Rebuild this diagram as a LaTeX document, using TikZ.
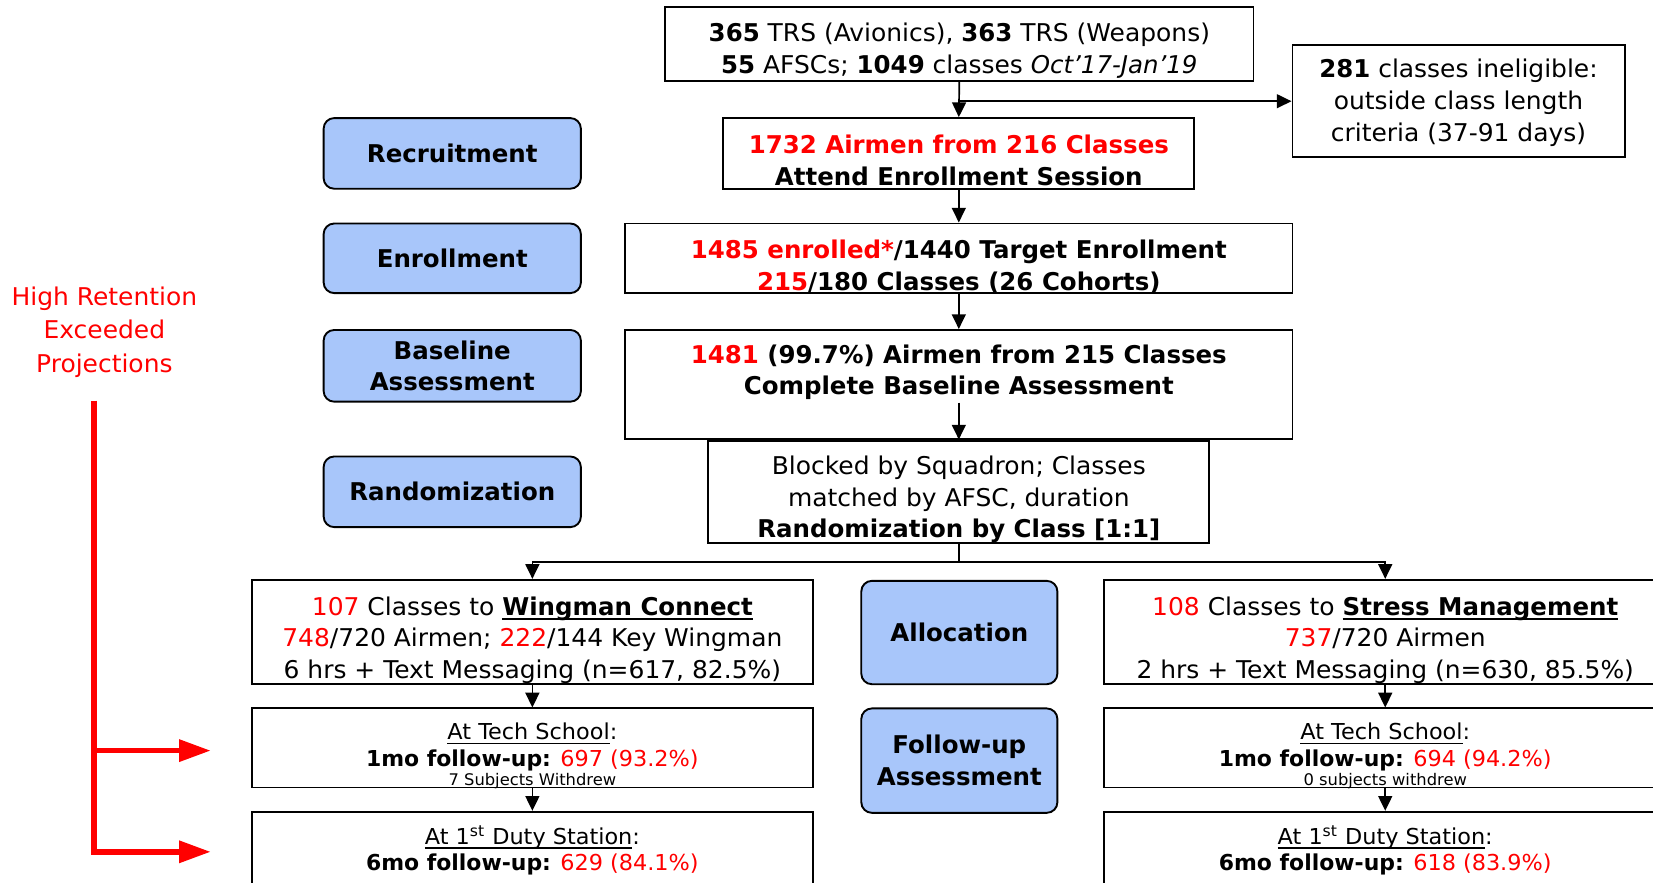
\documentclass[tikz,border=0pt]{standalone}
\usepackage{fontspec}
\setmainfont{DejaVu Sans}[ItalicFont={DejaVu Sans Oblique}, BoldFont={DejaVu Sans Bold}, BoldItalicFont={DejaVu Sans Bold Oblique}, UprightFeatures={FakeStretch=1.02}]
\usetikzlibrary{arrows.meta}
\definecolor{hl}{RGB}{255,0,0}
\definecolor{phase}{RGB}{168,198,250}
\newcommand{\rd}[1]{\textcolor{hl}{#1}}
\newcommand{\ulin}[1]{\setbox0\hbox{#1}\rlap{\rule[-2.2pt]{\wd0}{0.9pt}}\box0}
\begin{document}
\begin{tikzpicture}[x=0.5pt,y=-0.5pt,
  box/.style={draw, line width=0.9pt, inner sep=0pt},
  txt/.style={inner sep=0pt, align=center, font=\fontsize{11.6}{15}\selectfont},
  btxt/.style={txt, font=\fontsize{11.6}{15}\selectfont\bfseries},
  ftxt/.style={inner sep=0pt, align=center, font=\fontsize{10.4}{12.5}\selectfont},
  phasebox/.style={draw, line width=0.9pt, fill=phase, rounded corners=5pt, inner sep=0pt, align=center, font=\fontsize{11.6}{15}\selectfont\bfseries},
  arr/.style={line width=0.8pt, -{Triangle[length=7pt,width=6.6pt]}},
  redarr/.style={draw=hl, line width=2.7pt, -{Triangle[length=15pt,width=10pt]}},
  small/.style={inner sep=0pt, font=\fontsize{7.6}{8}\selectfont}
]
\clip (0,0) rectangle (1568,837);
\fill[white] (0,0) rectangle (1568,837);

% boxes of the main flow
\node[box, minimum width=279pt, minimum height=35pt] (top) at (910,42) {};
\node[txt] (topT) at (910,48)
  {\textbf{365} TRS (Avionics), \textbf{363} TRS (Weapons)\\\textbf{55} AFSCs; \textbf{1049} classes \textit{Oct’17-Jan’19}};
\node[box, minimum width=157.5pt, minimum height=53pt] (inel) at (1383.5,96) {};
\node[txt] (inelT) at (1383.5,97.5)
  {\textbf{281} classes ineligible:\\outside class length\\criteria (37-91 days)};
\node[box, minimum width=223.5pt, minimum height=33.5pt] (recr) at (909.5,145.5) {};
\node[btxt] (recrT) at (909.5,152)
  {\rd{1732 Airmen from 216 Classes}\\Attend Enrollment Session};
\node[box, minimum width=316.5pt, minimum height=33pt] (enrol) at (909.5,245) {};
\node[btxt] (enrolT) at (909.5,253)
  {\rd{1485 enrolled*}/1440 Target Enrollment\\\rd{215}/180 Classes (26 Cohorts)};
\node[box, minimum width=316.5pt, minimum height=51.5pt] (base) at (909.5,364.5) {};
\node[btxt] (baseT) at (909.5,353)
  {\rd{1481} (99.7\%) Airmen from 215 Classes\\Complete Baseline Assessment};
\node[box, minimum width=237.5pt, minimum height=48.5pt] (rand) at (909.5,466.5) {};
\node[txt] (randT) at (909.5,474)
  {Blocked by Squadron; Classes\\matched by AFSC, duration\\\textbf{Randomization by Class [1:1]}};

% arms
\node[box, minimum width=266pt, minimum height=49.5pt] (wing) at (505,599.5) {};
\node[txt] (wingT) at (505,607)
  {\rd{107} Classes to \ulin{\textbf{Wingman Connect}}\\\rd{748}/720 Airmen; \rd{222}/144 Key Wingman\\6 hrs + Text Messaging (n=617, 82.5\%)};
\node[box, minimum width=267pt, minimum height=49.5pt] (stress) at (1314,599.5) {};
\node[txt] (stressT) at (1314,607)
  {\rd{108} Classes to \ulin{\textbf{Stress Management}}\\\rd{737}/720 Airmen\\2 hrs + Text Messaging (n=630, 85.5\%)};
\node[box, minimum width=266pt, minimum height=37.5pt] (techL) at (505,709.5) {};
\node[ftxt] (techLT) at (505,708.5)
  {\ulin{At Tech School}:\\\textbf{1mo follow-up:} \rd{697 (93.2\%)}};
\node[box, minimum width=267pt, minimum height=37.5pt] (techR) at (1314,709.5) {};
\node[ftxt] (techRT) at (1314,708.5)
  {\ulin{At Tech School}:\\\textbf{1mo follow-up:} \rd{694 (94.2\%)}};
\node[small] (wdL) at (505,741) {7 Subjects Withdrew};
\node[small] (wdR) at (1314,741) {0 subjects withdrew};
\node[box, minimum width=266pt, minimum height=40pt] (dutyL) at (505,810) {};
\node[ftxt] (dutyLT) at (505,807)
  {\ulin{At 1\textsuperscript{st} Duty Station}:\\\textbf{6mo follow-up:} \rd{629 (84.1\%)}};
\node[box, minimum width=267pt, minimum height=40pt] (dutyR) at (1314,810) {};
\node[ftxt] (dutyRT) at (1314,807)
  {\ulin{At 1\textsuperscript{st} Duty Station}:\\\textbf{6mo follow-up:} \rd{618 (83.9\%)}};

% phase labels
\node[phasebox, minimum width=122pt, minimum height=33.5pt] (pRecr) at (429,145.5) {Recruitment};
\node[phasebox, minimum width=122pt, minimum height=33pt] (pEnrol) at (429,245) {Enrollment};
\node[phasebox, minimum width=122pt, minimum height=34pt] (pBase) at (429,347) {Baseline\\Assessment};
\node[phasebox, minimum width=122pt, minimum height=33.5pt] (pRand) at (429,466.5) {Randomization};
\node[phasebox, minimum width=93pt, minimum height=49pt] (pAlloc) at (910,600) {Allocation};
\node[phasebox, minimum width=93pt, minimum height=49.5pt] (pFollow) at (910,721.5) {Follow-up\\Assessment};

% red note
\node[align=center, text=hl, inner sep=0pt, font=\fontsize{11.6}{16}\selectfont] (note) at (99,315) {High Retention\\Exceeded\\Projections};

% connectors
\draw[arr] (top.south) -- (recr.north);
\draw[arr] (top.south |- inel.west) -- (inel.west);
\draw[arr] (recr.south) -- (enrol.north);
\draw[arr] (enrol.south) -- (base.north);
\coordinate (bstart) at (909.5,382);
\draw[arr] (bstart) -- (base.south);
\coordinate (split) at (909.5,533);
\draw[line width=0.8pt] (rand.south) -- (split);
\draw[arr] (split) -| (wing.north);
\draw[arr] (split) -| (stress.north);
\draw[arr] (wing.south) -- (techL.north);
\draw[arr] (stress.south) -- (techR.north);
\draw[arr] (techL.south) -- (dutyL.north);
\draw[arr] (techR.south) -- (dutyR.north);

% red arrows
\coordinate (rtop) at (89,380);
\coordinate (r1) at (200,712);
\coordinate (r2) at (200,808);
\draw[redarr] (rtop) |- (r2);
\draw[redarr] (rtop |- r1) -- (r1);
\end{tikzpicture}
\end{document}
